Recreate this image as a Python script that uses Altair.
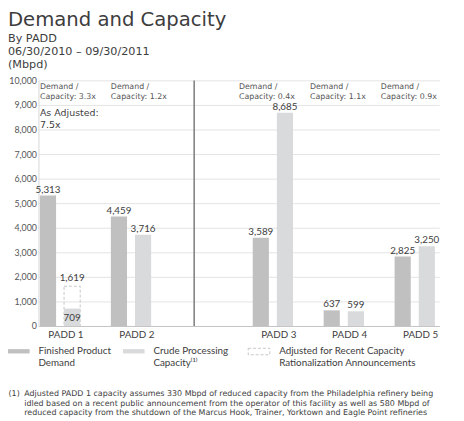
import altair as alt
import pandas as pd

# ---------------- data ----------------
categories = ["PADD 1", "PADD 2", "PADD 3", "PADD 4", "PADD 5"]
demand = [5313, 4459, 3589, 637, 2825]
capacity = [709, 3716, 8685, 599, 3250]
ratios = ["3.3x", "1.2x", "0.4x", "1.1x", "0.9x"]
adjusted_category = "PADD 1"
adjusted_capacity = 1619
adjusted_ratio = "7.5x"
x_slots = ["PADD 1", "PADD 2", "gap", "PADD 3", "PADD 4", "PADD 5"]
series_names = ["Finished Product Demand", "Crude Processing Capacity"]
adjusted_name = "Adjusted for Recent Capacity Rationalization Announcements"
y_ticks = [0, 1000, 2000, 3000, 4000, 5000, 6000, 7000, 8000, 9000, 10000]
title_text = "Demand and Capacity"
subtitle_lines = ["By PADD", "06/30/2010 \u2013 09/30/2011", "(Mbpd)"]
footnote_marker = "(1)"
footnote_lines = [
    "Adjusted PADD 1 capacity assumes 330 Mbpd of reduced capacity from the Philadelphia refinery being",
    "idled based on a recent public announcement from the operator of this facility as well as 580 Mbpd of",
    "reduced capacity from the shutdown of the Marcus Hook, Trainer, Yorktown and Eagle Point refineries",
]

# ---------------- tables ----------------
bars_df = pd.DataFrame({
    "category": categories * 2,
    "series": [series_names[0]] * len(categories) + [series_names[1]] * len(categories),
    "value": demand + capacity,
})
adj_df = pd.DataFrame({
    "category": [adjusted_category],
    "series": [series_names[1]],
    "value": [adjusted_capacity],
    "adj": [adjusted_name],
})
ratio_df = pd.DataFrame({
    "category": categories,
    "text": ["Demand /\nCapacity: " + r for r in ratios],
})
adj_note_df = pd.DataFrame({
    "category": [adjusted_category],
    "text": ["As Adjusted:\n" + adjusted_ratio],
})
sep_df = pd.DataFrame({"category": ["gap"]})

# ---------------- styles ----------------
LABEL_FONT = "Lato"
TEXT_FONT = "DejaVu Sans"
DARK = "#3d3d3d"
MID = "#555555"
FOOT_SIZE = 8.1

x_scale = alt.Scale(domain=x_slots, paddingInner=0.432, paddingOuter=0.0415, align=0.25)
x_axis = alt.Axis(
    labelExpr="datum.value == 'gap' ? '' : datum.value",
    labelFont=LABEL_FONT, labelFontSize=10, labelColor=DARK,
    labelPadding=4, labelOffset=6, labelAngle=0,
    ticks=False, domainColor="#c4c4c4", domainWidth=1, grid=False,
    title=footnote_lines, titleX=-15, titleY=71, titleAlign="left",
    titleAnchor="start", titleBaseline="alphabetic", titleAngle=0,
    titleFont=TEXT_FONT, titleFontSize=FOOT_SIZE, titleFontWeight="normal",
    titleColor=DARK, titleLineHeight=9.5,
)
y_scale = alt.Scale(domain=[0, 10000], nice=False)
y_axis = alt.Axis(
    values=y_ticks, format=",.0f", labelFont=LABEL_FONT, labelFontSize=9,
    labelColor=MID, labelPadding=2, ticks=False, domainColor="#d6d6d6",
    gridColor="#e3e3e3", grid=True,
    title=footnote_marker, titleX=-31, titleY=321, titleAngle=0,
    titleAlign="left", titleAnchor="start", titleBaseline="alphabetic",
    titleFont=TEXT_FONT, titleFontSize=FOOT_SIZE, titleFontWeight="normal",
    titleColor=DARK,
)
xoff_scale = alt.Scale(domain=series_names, paddingInner=0.33, paddingOuter=0)


def x_enc(band=None):
    if band is None:
        return alt.X("category:N", scale=x_scale, axis=x_axis)
    return alt.X("category:N", scale=x_scale, axis=x_axis, bandPosition=band)


def y_datum(v):
    return alt.YDatum(v, type="quantitative", scale=y_scale, axis=y_axis)


y_enc = alt.Y("value:Q", scale=y_scale, axis=y_axis)
xo_enc = alt.XOffset("series:N", scale=xoff_scale)

bar_path = "M-1,-0.4H3V0.4H-1Z"
box_path = "M-1,-0.6H3V0.6H-1Z"

# ---------------- layers ----------------
dashed = alt.Chart(adj_df).mark_bar(
    fill="transparent", stroke="#c6c6c6", strokeWidth=1
).encode(
    x=x_enc(), xOffset=xo_enc, y=y_enc,
    strokeDash=alt.StrokeDash(
        "adj:N",
        scale=alt.Scale(domain=[adjusted_name], range=[[3, 2]]),
        legend=alt.Legend(
            orient="none", legendX=213, legendY=270, title=None, padding=0,
            symbolType=box_path, symbolSize=121, symbolStrokeWidth=1,
            labelExpr="['Adjusted for Recent Capacity', 'Rationalization Announcements']",
            labelFont=LABEL_FONT, labelFontSize=10, labelColor=DARK,
            labelOffset=20, labelLimit=0,
        ),
    ),
)

bars = alt.Chart(bars_df).mark_bar().encode(
    x=x_enc(), xOffset=xo_enc, y=y_enc,
    color=alt.Color(
        "series:N",
        scale=alt.Scale(domain=series_names, range=["#c0c0c0", "#d9dadb"]),
        legend=alt.Legend(
            orient="none", legendX=-31, legendY=270, title=None, padding=0,
            direction="horizontal", columnPadding=12,
            symbolType=bar_path, symbolSize=121, symbolStrokeWidth=0,
            labelExpr="datum.value == 'Finished Product Demand' ? ['Finished Product', 'Demand'] : ['Crude Processing', 'Capacity\u207d\u00b9\u207e']",
            labelFont=LABEL_FONT, labelFontSize=10, labelColor=DARK,
            labelOffset=20, labelLimit=0,
        ),
    ),
)

inside_expr = f"datum.category == '{adjusted_category}' && datum.series == '{series_names[1]}'"

labels_above = alt.Chart(bars_df).transform_filter(
    f"!({inside_expr})"
).mark_text(
    baseline="bottom", dy=-1, font=LABEL_FONT, fontSize=10, color=DARK
).encode(
    x=x_enc(), xOffset=xo_enc, y=y_enc,
    text=alt.Text("value:Q", format=","),
)

label_inside = alt.Chart(bars_df).transform_filter(
    inside_expr
).mark_text(
    baseline="top", dy=5, font=LABEL_FONT, fontSize=10, color=DARK
).encode(
    x=x_enc(), xOffset=xo_enc, y=y_enc,
    text=alt.Text("value:Q", format=","),
)

adj_label = alt.Chart(adj_df).mark_text(
    baseline="bottom", dy=-3, font=LABEL_FONT, fontSize=10, color=DARK
).encode(
    x=x_enc(), xOffset=xo_enc, y=y_enc,
    text=alt.Text("value:Q", format=","),
)

separator = alt.Chart(sep_df).mark_rule(color="#7a7a7a", strokeWidth=1.5).encode(
    x=x_enc(0.307), y=y_datum(0), y2=alt.Y2Datum(10000),
)

ratio_left = alt.Chart(ratio_df).transform_filter(
    "datum.category == 'PADD 1' || datum.category == 'PADD 2'"
).mark_text(
    align="left", baseline="top", dy=2.5, lineBreak="\n", lineHeight=10,
    font=TEXT_FONT, fontSize=8, color=MID,
).encode(x=x_enc(0), y=y_datum(10000), text="text:N")

ratio_right = alt.Chart(ratio_df).transform_filter(
    "datum.category != 'PADD 1' && datum.category != 'PADD 2'"
).mark_text(
    align="left", baseline="top", dx=-14, dy=2.5, lineBreak="\n", lineHeight=10,
    font=TEXT_FONT, fontSize=8, color=MID,
).encode(x=x_enc(0), y=y_datum(10000), text="text:N")

adj_note = alt.Chart(adj_note_df).mark_text(
    align="left", baseline="top", dy=3.5, lineBreak="\n", lineHeight=11.5,
    font=TEXT_FONT, fontSize=9.6, color=DARK,
).encode(x=x_enc(0), y=y_datum(9000), text="text:N")

chart = alt.layer(
    dashed, bars, labels_above, label_inside, adj_label,
    separator, ratio_left, ratio_right, adj_note,
).properties(
    width=408, height=250,
    autosize=alt.AutoSizeParams(type="none"),
    padding={"left": 31, "top": 70, "right": 17, "bottom": 91},
    title=alt.TitleParams(
        text=title_text, subtitle=subtitle_lines, anchor="start", frame="group",
        dx=-31, offset=6, font=TEXT_FONT, fontSize=20, fontWeight="normal",
        color=DARK, subtitleFont=TEXT_FONT, subtitleFontSize=11.4,
        subtitleColor=DARK, subtitleLineHeight=13.5, subtitlePadding=3,
    ),
).configure_view(stroke="transparent")

chart.save("out.html", embed_options={"renderer": "svg", "actions": False})
